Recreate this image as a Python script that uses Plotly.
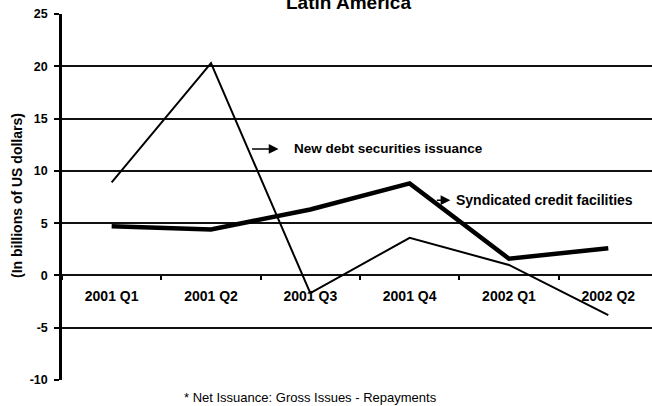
import plotly.graph_objects as go

# Net issuance by quarter, billions of US dollars
quarters = ["2001 Q1", "2001 Q2", "2001 Q3", "2001 Q4", "2002 Q1", "2002 Q2"]
new_debt_issuance = [8.9, 20.3, -1.7, 3.6, 1.0, -3.8]
syndicated_credit = [4.7, 4.4, 6.3, 8.8, 1.6, 2.6]
y_ticks = [-10, -5, 0, 5, 10, 15, 20, 25]
y_tick_labels = [str(v) for v in y_ticks]

FONT = "Liberation Sans, Arial, sans-serif"
W, H = 652, 406
M_L, M_R, M_T, M_B = 62, 0, 14, 26

fig = go.Figure()
fig.add_trace(go.Scatter(
    x=quarters, y=new_debt_issuance, mode="lines",
    line=dict(color="#000000", width=2),
    name="New debt securities issuance", showlegend=False,
))
fig.add_trace(go.Scatter(
    x=quarters, y=syndicated_credit, mode="lines",
    line=dict(color="#000000", width=4.5),
    name="Syndicated credit facilities", showlegend=False,
))

# category axis sits on the zero line
zero_pos = (0 - y_ticks[0]) / (y_ticks[-1] - y_ticks[0])

fig.update_layout(
    width=W, height=H,
    margin=dict(l=M_L, r=M_R, t=M_T, b=M_B),
    paper_bgcolor="white", plot_bgcolor="white",
    font=dict(family=FONT, color="#000000"),
    xaxis=dict(
        type="category", range=[-0.5, 5.44],
        anchor="free", position=zero_pos,
        showgrid=False, zeroline=False, showline=False,
        ticks="outside", tickson="boundaries", ticklen=4, tickwidth=1.5,
        tickcolor="#000000",
        tickfont=dict(family=FONT, size=14, color="#000000", weight="bold"),
        ticklabelstandoff=11,
    ),
    yaxis=dict(
        range=[y_ticks[0], y_ticks[-1]], tickvals=y_ticks, ticktext=y_tick_labels,
        showgrid=True, gridcolor="#111111", gridwidth=1.7,
        zeroline=True, zerolinecolor="#111111", zerolinewidth=1.7,
        showline=True, linecolor="#000000", linewidth=2.5,
        ticks="outside", ticklen=5, tickwidth=1.5, tickcolor="#000000",
        tickfont=dict(family=FONT, size=12.5, color="#000000", weight="bold"),
        ticklabelstandoff=4,
    ),
)

annotations = [
    # chart title
    dict(text="<b>Latin America</b>", xref="paper", yref="paper",
         x=(348 - M_L) / (W - M_L), y=1, xanchor="center", yanchor="bottom",
         yshift=-1, showarrow=False, font=dict(family=FONT, size=19)),
    # vertical axis title
    dict(text="<b>(In billions of US dollars)</b>", xref="paper", yref="paper",
         x=(17 - M_L) / (W - M_L), y=1 - (196 - M_T) / (H - M_T - M_B),
         xanchor="center", yanchor="middle", textangle=-90,
         showarrow=False, font=dict(family=FONT, size=14)),
    # footnote
    dict(text="* Net Issuance: Gross Issues - Repayments", xref="paper", yref="paper",
         x=(310 - M_L) / (W - M_L), y=-(397 - (H - M_B)) / (H - M_T - M_B),
         xanchor="center", yanchor="middle", showarrow=False,
         font=dict(family=FONT, size=13)),
    # series labels with pointer arrows
    dict(text="", x=1.68, y=12.1, xref="x", yref="y", showarrow=True,
         ax=-28, ay=0, arrowhead=2, arrowsize=1.3, arrowwidth=1.5,
         arrowcolor="#000000"),
    dict(text="<b>New debt securities issuance</b>", x=1.82, y=12.1,
         xref="x", yref="y", xanchor="left", yanchor="middle",
         showarrow=False, font=dict(family=FONT, size=13.5)),
    dict(text="", x=3.41, y=7.2, xref="x", yref="y", showarrow=True,
         ax=-15, ay=0, arrowhead=2, arrowsize=1.3, arrowwidth=1.5,
         arrowcolor="#000000"),
    dict(text="<b>Syndicated credit facilities</b>", x=3.45, y=7.2,
         xref="x", yref="y", xanchor="left", yanchor="middle",
         showarrow=False, font=dict(family=FONT, size=14)),
]
fig.update_layout(annotations=annotations)

fig.write_html("out.html")
